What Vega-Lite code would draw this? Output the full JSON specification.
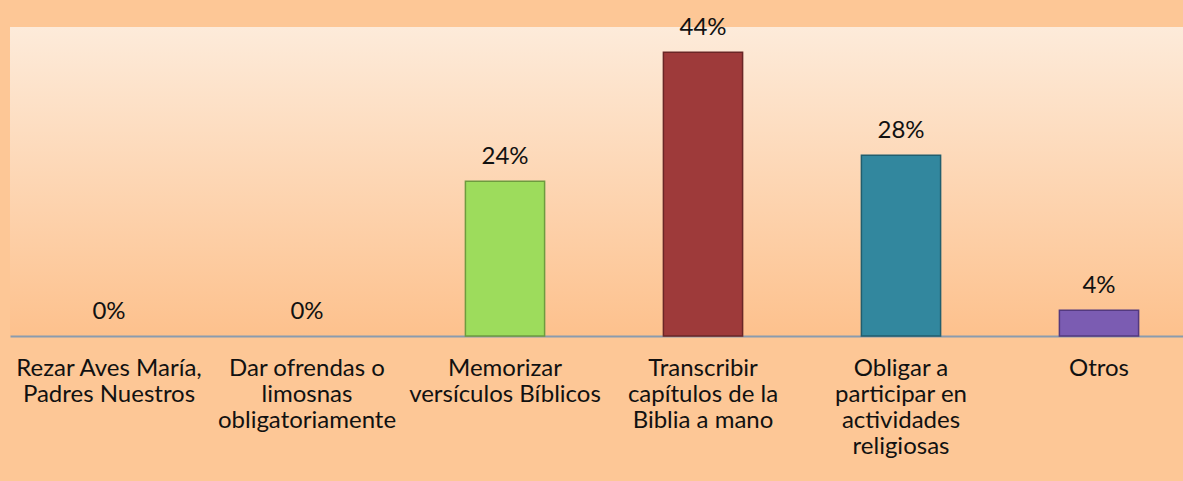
{
  "$schema": "https://vega.github.io/schema/vega-lite/v6.json",
  "width": 1188,
  "height": 309,
  "autosize": {"type": "none"},
  "padding": {"left": 10, "top": 27, "right": 0, "bottom": 145},
  "background": "#FDC796",
  "config": {
    "view": {
      "stroke": null,
      "fill": {
        "gradient": "linear",
        "x1": 0, "y1": 0, "x2": 0, "y2": 1,
        "stops": [
          {"offset": 0, "color": "#FDEBDA"},
          {"offset": 1, "color": "#FDC18D"}
        ]
      }
    },
    "font": "Lato"
  },
  "data": {
    "values": [
      {"categoria": "Rezar Aves María,|Padres Nuestros", "valor": 0, "color": "#9BDB5A", "borde": "#6E9B3F"},
      {"categoria": "Dar ofrendas o|limosnas|obligatoriamente", "valor": 0, "color": "#9BDB5A", "borde": "#6E9B3F"},
      {"categoria": "Memorizar|versículos Bíblicos", "valor": 0.24, "color": "#9DDC5C", "borde": "#6E9B3F"},
      {"categoria": "Transcribir|capítulos de la|Biblia a mano", "valor": 0.44, "color": "#9E3A3A", "borde": "#6A2626"},
      {"categoria": "Obligar a|participar en|actividades|religiosas", "valor": 0.28, "color": "#32879E", "borde": "#215E6E"},
      {"categoria": "Otros", "valor": 0.04, "color": "#7B5CB2", "borde": "#53397F"}
    ]
  },
  "encoding": {
    "x": {
      "field": "categoria",
      "type": "nominal",
      "sort": [
        "Rezar Aves María,|Padres Nuestros",
        "Dar ofrendas o|limosnas|obligatoriamente",
        "Memorizar|versículos Bíblicos",
        "Transcribir|capítulos de la|Biblia a mano",
        "Obligar a|participar en|actividades|religiosas",
        "Otros"
      ],
      "scale": {"paddingInner": 0.6, "paddingOuter": 0.3},
      "axis": {
        "title": null,
        "labelAngle": 0,
        "labelExpr": "split(datum.value, '|')",
        "labelFont": "Lato",
        "labelFontSize": 24,
        "labelColor": "#111111",
        "labelLineHeight": 26,
        "labelPadding": 20,
        "labelLimit": 0,
        "ticks": false,
        "domainColor": "#8A9BAE",
        "domainWidth": 2
      }
    },
    "y": {
      "field": "valor",
      "type": "quantitative",
      "scale": {"domain": [0, 0.479], "nice": false, "zero": true},
      "axis": null
    }
  },
  "layer": [
    {
      "transform": [{"filter": "datum.valor > 0"}],
      "mark": {"type": "bar", "strokeWidth": 1.5},
      "encoding": {
        "color": {"field": "color", "type": "nominal", "scale": null, "legend": null},
        "stroke": {"field": "borde", "type": "nominal", "scale": null, "legend": null}
      }
    },
    {
      "mark": {"type": "text", "baseline": "alphabetic", "dy": -17, "font": "Lato", "fontSize": 24, "color": "#111111"},
      "encoding": {
        "text": {"field": "valor", "type": "quantitative", "format": ".0%"},
        "detail": {"field": "categoria"}
      }
    }
  ]
}
